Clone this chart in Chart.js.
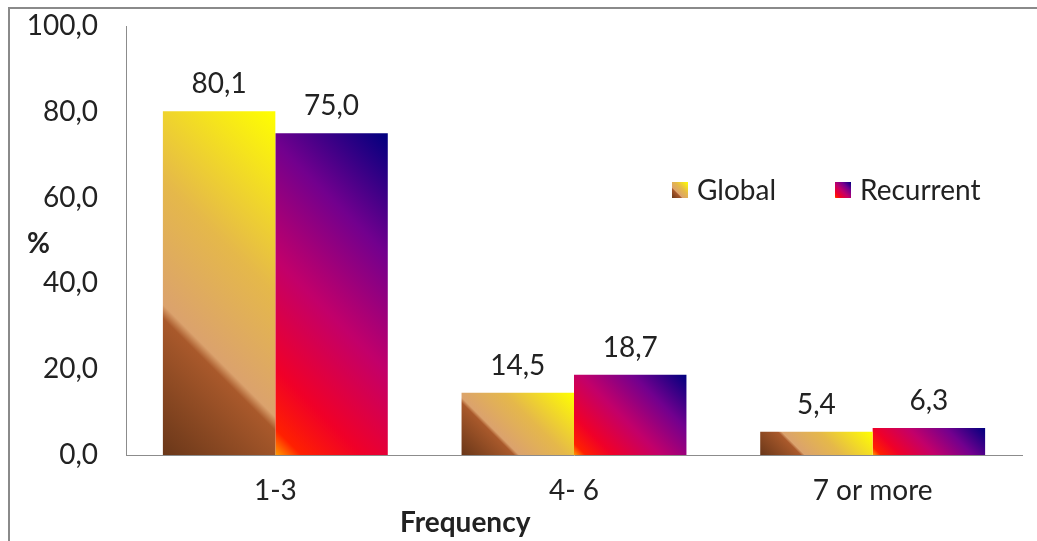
<!DOCTYPE html>
<html>
<head>
<meta charset="utf-8">
<title>Frequency chart</title>
<script src="https://cdn.jsdelivr.net/npm/chart.js@4/dist/chart.umd.min.js"></script>
<style>
  html, body { margin: 0; padding: 0; background: #fff; overflow: hidden; }
  #wrap { position: relative; width: 1037px; height: 541px; }
  #frame {
    position: absolute; left: 8px; top: 7px; width: 1200px; height: 700px;
    border: 2px solid #8a8a8a; box-sizing: border-box; pointer-events: none;
  }
  canvas { position: absolute; left: 0; top: 0; }
</style>
</head>
<body>
<div id="wrap">
  <div id="frame"></div>
  <canvas id="chart" width="1037" height="541"></canvas>
</div>
<script>
// ---------------------------------------------
// Data
// ---------------------------------------------
const categories = ["1-3", "4- 6", "7 or more"];
const seriesNames = ["Global", "Recurrent"];
const globalValues = [80.1, 14.5, 5.4];
const recurrentValues = [75.0, 18.7, 6.3];
const yTicks = [0, 20, 40, 60, 80, 100];

const FONT = "Lato, 'Open Sans', sans-serif";
const TEXT = "#222222";
const AXIS = "#8c8c8c";

// gradient stops for each series (bottom-left -> top-right, 45 degrees)
const globalStops = [
  [0, "#6a3719"], [0.30, "#a9592b"], [0.33, "#dba26d"],
  [0.6, "#e5b84a"], [1, "#ffff00"],
];
const recurrentStops = [
  [0, "#ff9a00"], [0.06, "#ff2000"], [0.2, "#f00028"],
  [0.45, "#c2006a"], [0.72, "#72008e"], [1, "#00007e"],
];

function comma(v) {
  return v.toFixed(1).replace(".", ",");
}

// 45° diagonal gradient scaled to the box
function diagGradient(ctx, left, bottom, w, h, stops) {
  const d = (w + h) / 2;
  const g = ctx.createLinearGradient(left, bottom, left + d, bottom - d);
  stops.forEach(([p, c]) => g.addColorStop(p, c));
  return g;
}

// give every bar its own gradient before drawing
const barGradients = {
  id: "barGradients",
  beforeDatasetsDraw(chart) {
    const ctx = chart.ctx;
    chart.data.datasets.forEach((ds, di) => {
      const stops = di === 0 ? globalStops : recurrentStops;
      chart.getDatasetMeta(di).data.forEach((el) => {
        const left = el.x - el.width / 2;
        const h = el.base - el.y;
        el.options.backgroundColor = diagGradient(ctx, left, el.base, el.width, h, stops);
      });
    });
  },
};

// value labels above bars
const valueLabels = {
  id: "valueLabels",
  afterDatasetsDraw(chart) {
    const ctx = chart.ctx;
    ctx.save();
    ctx.font = "28px " + FONT;
    ctx.fillStyle = TEXT;
    ctx.textAlign = "center";
    ctx.textBaseline = "alphabetic";
    chart.data.datasets.forEach((ds, di) => {
      chart.getDatasetMeta(di).data.forEach((el, i) => {
        ctx.fillText(comma(ds.data[i]), el.x, el.y - 18);
      });
    });
    ctx.restore();
  },
};

// legend inside the plot + the two axis titles
const extras = {
  id: "extras",
  afterDraw(chart) {
    const ctx = chart.ctx;
    const area = chart.chartArea;
    ctx.save();

    // legend
    const legendY = 190;
    const items = [
      { x: area.left + 546, stops: globalStops },
      { x: area.left + 709, stops: recurrentStops },
    ];
    ctx.font = "28px " + FONT;
    ctx.fillStyle = TEXT;
    ctx.textBaseline = "middle";
    ctx.textAlign = "left";
    items.forEach((it, i) => {
      ctx.fillStyle = diagGradient(ctx, it.x, legendY + 8, 16, 16, it.stops);
      ctx.fillRect(it.x, legendY - 8, 16, 16);
      ctx.fillStyle = TEXT;
      ctx.fillText(seriesNames[i], it.x + 25, legendY + 1);
    });

    // axis titles (horizontal, like the original)
    ctx.font = "bold 28px " + FONT;
    ctx.fillText("%", 27, 244);
    ctx.fillText("Frequency", 400, 523);
    ctx.restore();
  },
};

const chart = new Chart(document.getElementById("chart"), {
  type: "bar",
  data: {
    labels: categories,
    datasets: [
      { label: seriesNames[0], data: globalValues, backgroundColor: () => "#e0b050" },
      { label: seriesNames[1], data: recurrentValues, backgroundColor: () => "#a0006a" },
    ],
  },
  options: {
    responsive: false,
    animation: false,
    devicePixelRatio: 1,
    categoryPercentage: 0.753,
    barPercentage: 1,
    layout: { padding: { left: 0, right: 15, top: 26, bottom: 0 } },
    plugins: {
      legend: { display: false },
      tooltip: { enabled: false },
    },
    scales: {
      x: {
        grid: { display: false, drawTicks: false },
        border: { display: true, color: AXIS, width: 1 },
        ticks: { color: TEXT, font: { family: FONT, size: 28 }, padding: 19, maxRotation: 0 },
        afterFit(scale) { scale.height = 86; },
      },
      y: {
        min: 0,
        max: 100,
        grid: { display: false, drawTicks: false },
        border: { display: true, color: AXIS, width: 1 },
        afterBuildTicks(scale) { scale.ticks = yTicks.map((v) => ({ value: v })); },
        ticks: {
          color: TEXT,
          font: { family: FONT, size: 28 },
          padding: 28,
          callback: (v) => comma(v),
        },
        // tick padding also pads top/bottom of a vertical axis; drop that
        afterFit(scale) {
          scale.width = 126;
          scale.paddingTop = 0;
          scale.paddingBottom = 0;
        },
      },
    },
  },
  plugins: [barGradients, valueLabels, extras],
});
</script>
</body>
</html>
